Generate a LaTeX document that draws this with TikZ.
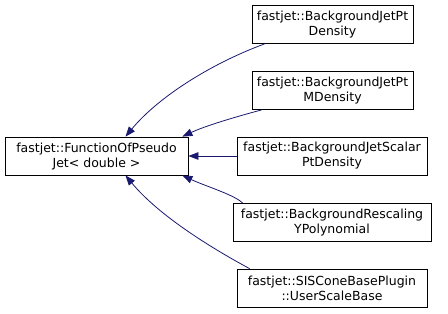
\documentclass[tikz,border=0pt]{standalone}
\usepackage{fontspec}
\setmainfont{DejaVu Sans}
\usetikzlibrary{arrows.meta}
\definecolor{edgeblue}{HTML}{191970}
\begin{document}
\begin{tikzpicture}[x=1bp,y=-1bp,
  cls/.style={draw=black,fill=white,line width=0.8bp,rectangle,align=center,
    inner sep=0pt,minimum height=38bp,font=\fontsize{12.5bp}{15bp}\selectfont},
  inh/.style={draw=edgeblue,line width=0.8bp,-{Triangle[length=10bp,width=7.5bp]},edgeblue}]
\useasboundingbox (0,0) rectangle (448,313);
\node[cls,minimum width=183bp] (base) at (96.5,156) {fastjet::FunctionOfPseudo\\Jet< double >};
\node[cls,minimum width=161bp] (b1) at (332.5,24.5) {fastjet::BackgroundJetPt\\Density};
\node[cls,minimum width=161bp] (b2) at (332.5,90.5) {fastjet::BackgroundJetPt\\MDensity};
\node[cls,minimum width=190bp] (b3) at (332,156) {fastjet::BackgroundJetScalar\\PtDensity};
\node[cls,minimum width=198bp] (b4) at (332,222.5) {fastjet::BackgroundRescaling\\YPolynomial};
\node[cls,minimum width=190bp] (b5) at (332,288) {fastjet::SISConeBasePlugin\\::UserScaleBase};
\draw[inh] ([xshift=13bp]b1.south west) .. controls (215,62) and (160,95) .. ([xshift=29bp]base.north);
\draw[inh] ([xshift=10bp]b2.south west) .. controls (235,117) and (205,126) .. ([xshift=-6bp]base.north east);
\draw[inh] (b3.west) -- (base.east);
\draw[inh] ([xshift=10bp]b4.north west) .. controls (235,195) and (205,186) .. ([xshift=-6bp]base.south east);
\draw[inh] ([xshift=13bp]b5.north west) .. controls (215,250) and (160,217) .. ([xshift=29bp]base.south);
\end{tikzpicture}
\end{document}
